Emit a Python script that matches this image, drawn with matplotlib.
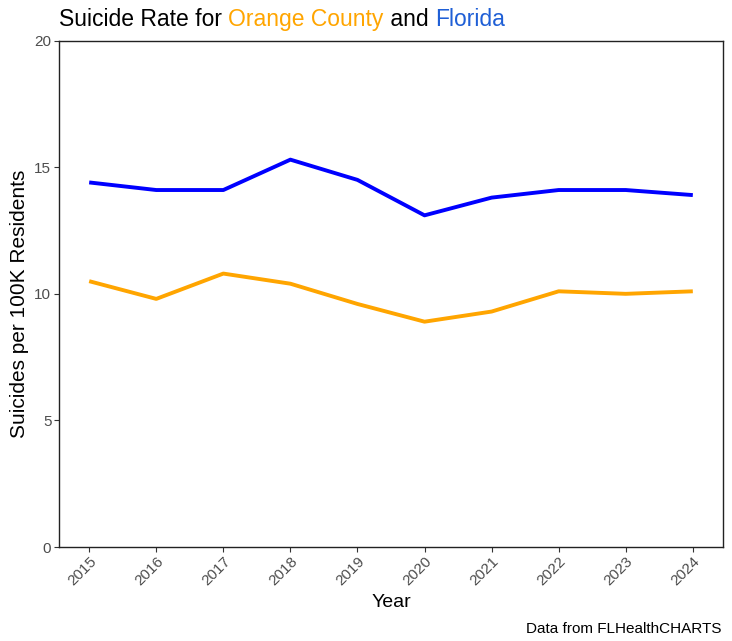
import matplotlib
matplotlib.use('Agg')
import matplotlib.pyplot as plt
from matplotlib.transforms import offset_copy

plt.rcParams['font.family'] = ['Liberation Sans', 'DejaVu Sans']

# Data
years = [2015, 2016, 2017, 2018, 2019, 2020, 2021, 2022, 2023, 2024]
florida = [14.4, 14.1, 14.1, 15.3, 14.5, 13.1, 13.8, 14.1, 14.1, 13.9]
orange_county = [10.5, 9.8, 10.8, 10.4, 9.6, 8.9, 9.3, 10.1, 10.0, 10.1]
y_ticks = [0, 5, 10, 15, 20]

fig = plt.figure(figsize=(7.32, 6.41), dpi=100)
ax = fig.add_axes([0.0806, 0.1466, 0.9071, 0.79])

ax.plot(years, florida, color='#0000FF', linewidth=2.8, solid_capstyle='butt')
ax.plot(years, orange_county, color='#FFA500', linewidth=2.8, solid_capstyle='butt')

ax.set_xlim(years[0] - 0.45, years[-1] + 0.45)
ax.set_ylim(0, 20)
ax.set_yticks(y_ticks)
ax.set_xticks(years)
ax.set_xticklabels([str(y) for y in years], rotation=45, ha='right',
                   rotation_mode='anchor')
ax.tick_params(colors='#333333', labelcolor='#4d4d4d', labelsize=11, length=3.5,
               width=0.8, pad=2)
for s in ax.spines.values():
    s.set_color('#222222')
    s.set_linewidth(1.0)

ax.set_xlabel('Year', fontsize=14, labelpad=4)
ax.set_ylabel('Suicides per 100K Residents', fontsize=15)
ax.yaxis.set_label_coords(-0.045, 0.48)

# multicoloured title, piece by piece
pieces = [('Suicide Rate for ', 'black'), ('Orange County', '#FFA500'),
          (' and ', 'black'), ('Florida', '#1F5FD6')]
fig.canvas.draw()
renderer = fig.canvas.get_renderer()
x0 = 59 / 732
y0 = 1 - 26 / 641
offset = 0
for txt, col in pieces:
    t = fig.text(x0, y0, txt, color=col, fontsize=16.5, ha='left', va='baseline',
                 transform=offset_copy(fig.transFigure, fig=fig, x=offset, y=0, units='dots'))
    bb = t.get_window_extent(renderer=renderer)
    offset += bb.width

fig.text(722 / 732, 1 - 633 / 641, 'Data from FLHealthCHARTS', fontsize=11,
         ha='right', va='baseline')

fig.savefig('out.png', dpi=100)
